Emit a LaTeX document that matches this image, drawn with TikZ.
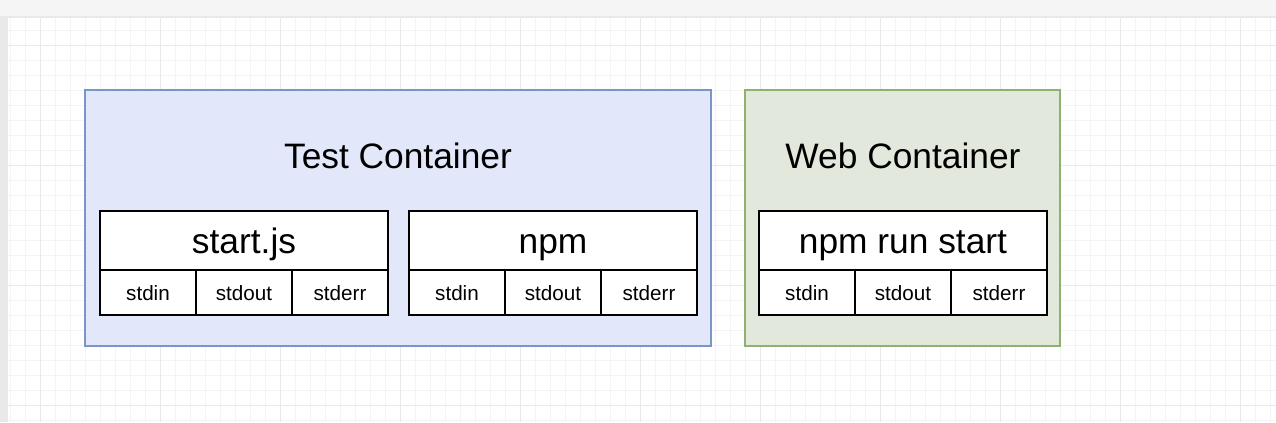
\documentclass[tikz,border=0pt]{standalone}
\usepackage{fontspec}
\setmainfont{Liberation Sans}
\definecolor{gridminor}{RGB}{244,244,244}
\definecolor{gridmajor}{RGB}{233,233,233}
\definecolor{testfill}{RGB}{226,232,250}
\definecolor{testline}{RGB}{122,150,200}
\definecolor{webfill}{RGB}{226,232,219}
\definecolor{webline}{RGB}{142,176,112}
\definecolor{barfill}{RGB}{245,245,245}
\begin{document}
\begin{tikzpicture}[x=0.75pt,y=-0.75pt,
  container/.style={draw, line width=1.6pt, inner sep=0pt, outer sep=0pt, anchor=north west, minimum height=192pt},
  title/.style={font=\fontsize{26.5}{30}\selectfont, inner sep=0pt},
  procbox/.style={draw, line width=1.8pt, fill=white, inner sep=0pt, outer sep=0pt, anchor=north west,
    minimum width=216pt, minimum height=44.25pt, font=\fontsize{26.5}{30}\selectfont,
    text height=18.8pt, text depth=0pt},
  iobox/.style={draw, line width=1.8pt, fill=white, inner sep=0pt, outer sep=0pt, anchor=north west,
    minimum width=72pt, minimum height=33.75pt, font=\fontsize{15.5}{18}\selectfont,
    text height=12.6pt, text depth=0pt}]
\useasboundingbox (0,0) rectangle (1276,422);
\fill[white] (0,0) rectangle (1276,422);
% grid
\foreach \gx in {10,25,...,1276} \draw[gridminor, line width=0.6pt] (\gx,17) -- (\gx,422);
\foreach \gy in {30,45,...,422} \draw[gridminor, line width=0.6pt] (8,\gy) -- (1276,\gy);
\foreach \gx in {40,160,...,1276} \draw[gridmajor, line width=0.7pt] (\gx,17) -- (\gx,422);
\foreach \gy in {45,165,...,422} \draw[gridmajor, line width=0.7pt] (8,\gy) -- (1276,\gy);
% toolbar band and left ruler
\fill[barfill] (0,0) rectangle (1276,17);
\draw[gridmajor, line width=0.8pt] (0,17) -- (1276,17);
\fill[gridmajor] (0,17) rectangle (8,422);

% containers
\node[container, fill=testfill, draw=testline, minimum width=469.5pt] (test) at (85,90) {};
\node[container, fill=webfill, draw=webline, minimum width=236.25pt] (web) at (745,90) {};
\node[title] (testtitle) at (398,156) {Test Container};
\node[title] (webtitle) at (903,156) {Web Container};

% start.js
\node[procbox] (startjs) at (100,211) {start.js};
\node[iobox] (s1in) at (100,270) {stdin};
\node[iobox] (s1out) at (196,270) {stdout};
\node[iobox] (s1err) at (292,270) {stderr};

% npm
\node[procbox] (npm) at (409,211) {npm};
\node[iobox] (s2in) at (409,270) {stdin};
\node[iobox] (s2out) at (505,270) {stdout};
\node[iobox] (s2err) at (601,270) {stderr};

% npm run start
\node[procbox] (npmrun) at (759,211) {npm run start};
\node[iobox] (s3in) at (759,270) {stdin};
\node[iobox] (s3out) at (855,270) {stdout};
\node[iobox] (s3err) at (951,270) {stderr};
\end{tikzpicture}
\end{document}
